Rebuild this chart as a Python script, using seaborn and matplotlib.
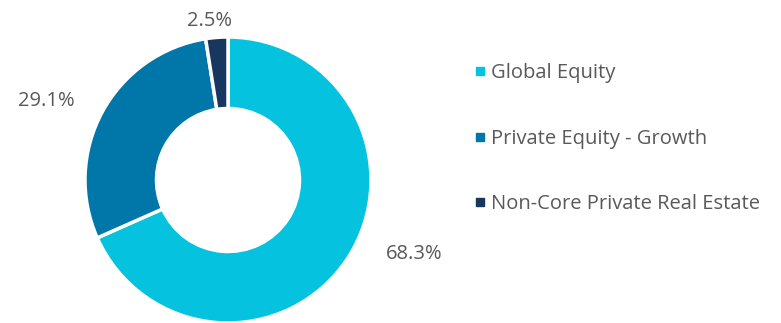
import matplotlib
matplotlib.use("Agg")
import matplotlib.pyplot as plt
from matplotlib.lines import Line2D
import seaborn as sns

# Allocation data
categories = ["Global Equity", "Private Equity - Growth", "Non-Core Private Real Estate"]
shares = [68.3, 29.1, 2.5]
colors = ["#05C3DE", "#0077A8", "#17375E"]
# label anchor points (data units, pie radius = 1)
label_xy = [(1.30, -0.52), (-1.27, 0.55), (-0.13, 1.11)]

sns.set_theme(style="white")
plt.rcParams["font.family"] = ["Open Sans", "DejaVu Sans"]
text_color = "#595959"
fs = 14.5

W, H, DPI = 781, 323, 100
fig = plt.figure(figsize=(W / DPI, H / DPI), dpi=DPI)
cx, cy, r = 228, 180, 143
ax = fig.add_axes([(cx - r) / W, (H - cy - r) / H, 2 * r / W, 2 * r / H])

palette = sns.color_palette(colors)
wedges, _ = ax.pie(
    shares,
    colors=palette,
    startangle=90,
    counterclock=False,
    radius=1.0,
    wedgeprops=dict(width=0.5, edgecolor="white", linewidth=2.5),
)
for w in wedges:
    w.set_clip_on(False)
ax.set_xlim(-1, 1)
ax.set_ylim(-1, 1)
ax.set_aspect("equal")
ax.axis("off")

for val, (x, y) in zip(shares, label_xy):
    ax.text(x, y, f"{val:.1f}%", ha="center", va="center",
            fontsize=fs, color=text_color, clip_on=False)

handles = [Line2D([0], [0], marker="s", linestyle="none", markersize=6,
                  markerfacecolor=c, markeredgecolor=c) for c in palette]
fig.legend(handles, categories, loc="upper left",
           bbox_to_anchor=(475 / W, 1 - 63 / H), frameon=False,
           fontsize=fs, labelcolor=text_color, labelspacing=2.27,
           handlelength=0.5, handletextpad=0.3, borderpad=0, borderaxespad=0)

fig.savefig("out.png", dpi=DPI)
